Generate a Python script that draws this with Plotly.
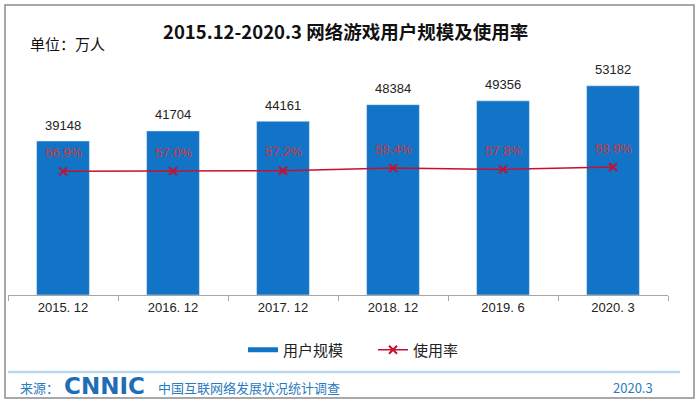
import plotly.graph_objects as go

categories = ["2015. 12", "2016. 12", "2017. 12", "2018. 12", "2019. 6", "2020. 3"]
users = [39148, 41704, 44161, 48384, 49356, 53182]
rate = [56.9, 57.0, 57.2, 58.4, 57.8, 58.9]

FONT = "Noto Sans CJK SC, Noto Sans, sans-serif"
NUMFONT = "Liberation Sans, Arial, sans-serif"
BLUE = "#1274C6"
RED = "#C8102E"

W, H = 700, 405
def px(x):
    return x / W
def py(y):
    return (H - y) / H

fig = go.Figure()
fig.add_trace(go.Bar(x=categories, y=users, name="用户规模", marker_color=BLUE,
                     width=0.48, yaxis="y", showlegend=False))
# legend proxy for the bar series (wide bar swatch)
fig.add_trace(go.Scatter(x=[None], y=[None], name="用户规模", mode="lines",
                         line=dict(color=BLUE, width=5), yaxis="y"))
fig.add_trace(go.Scatter(x=categories, y=rate, name="使用率", mode="lines+markers",
                         line=dict(color=RED, width=1.5),
                         marker=dict(symbol="x-thin", size=8, line=dict(color=RED, width=2)),
                         yaxis="y2"))

ann = []
for c, v in zip(categories, users):
    ann.append(dict(x=c, y=v, xref="x", yref="y", text=str(v), showarrow=False,
                    yshift=16, font=dict(size=13, color="#222222", family=NUMFONT)))
for c, r in zip(categories, rate):
    ann.append(dict(x=c, y=r, xref="x", yref="y2", text=f"{r:.1f}%", showarrow=False,
                    yshift=19, font=dict(size=13, color="#D0343A", family=NUMFONT)))

def pann(x, y, text, size, color, xanchor="center", family=FONT):
    return dict(x=px(x), y=py(y), xref="paper", yref="paper", text=text, showarrow=False,
                xanchor=xanchor, yanchor="middle", font=dict(size=size, color=color, family=family))

ann += [
    pann(345, 31, "<b>2015.12-2020.3 网络游戏用户规模及使用率</b>", 18.5, "#111111"),
    pann(28, 44, "单位：万人", 15, "#111111", "left"),
    pann(18, 387, "来源：", 13, "#2A7BC0", "left"),
    pann(62, 386, "<b>CNNIC</b>", 23, "#1F6DB5", "left", "DejaVu Sans, sans-serif"),
    pann(156, 387, "中国互联网络发展状况统计调查", 13, "#2A7BC0", "left"),
    pann(655, 387, "2020.3", 13, "#2A7BC0", "right"),
]

shapes = [
    dict(type="rect", xref="paper", yref="paper", x0=px(5), x1=px(694), y0=py(5), y1=py(398),
         line=dict(color="#8C8C8C", width=1.5)),
    dict(type="line", xref="paper", yref="paper", x0=px(8), x1=px(680), y0=py(372), y1=py(372),
         line=dict(color="#BDD7EE", width=2.5)),
]

fig.update_layout(
    width=W, height=H,
    margin=dict(l=0, r=0, t=0, b=0, autoexpand=False),
    paper_bgcolor="white", plot_bgcolor="white",
    font=dict(family=FONT, size=12, color="#222222"),
    showlegend=True,
    legend=dict(orientation="h", x=px(243), xanchor="left", y=py(350), yanchor="middle",
                font=dict(size=15, family=FONT), itemwidth=30, entrywidth=85,
                bgcolor="rgba(0,0,0,0)"),
    xaxis=dict(domain=[px(8), px(668)], showline=True, linecolor="#A6A6A6", linewidth=1, ticks="outside",
               tickson="boundaries", ticklen=5, tickcolor="#A6A6A6",
               tickfont=dict(size=13, color="#222222", family=NUMFONT),
               showgrid=False),
    yaxis=dict(domain=[py(295), py(59)], range=[0, 60000], visible=False, showgrid=False),
    yaxis2=dict(range=[0, 108.6], overlaying="y", visible=False, showgrid=False),
    annotations=ann,
    shapes=shapes,
)

fig.write_html("out.html", config={"displayModeBar": False},
               post_script="document.body.style.margin='0';document.body.style.overflow='hidden';")
